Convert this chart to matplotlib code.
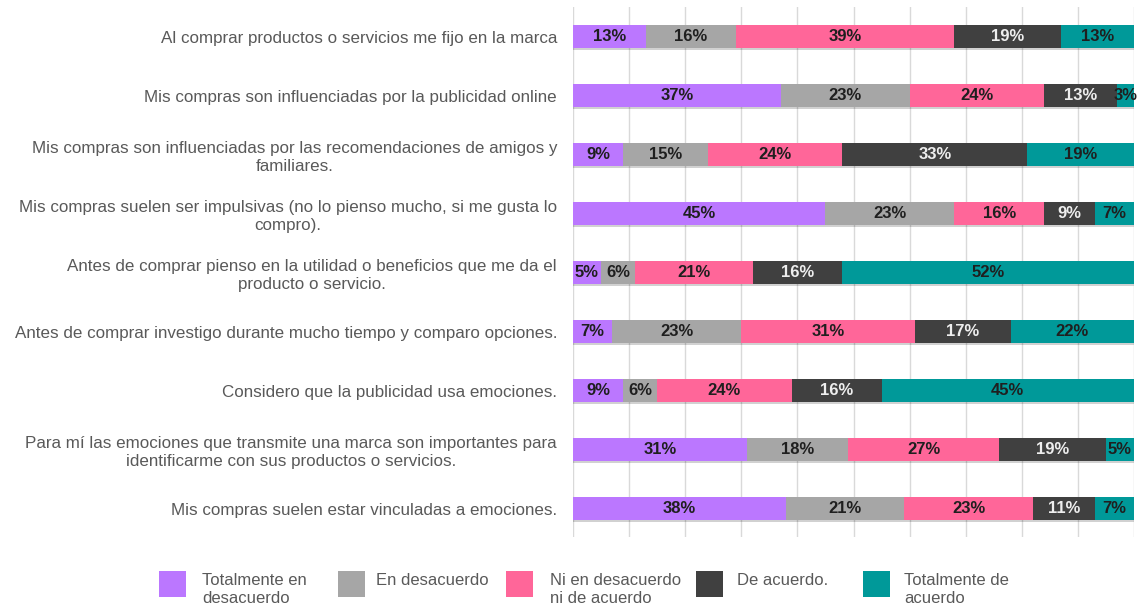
"""
plot.py

Stacked horizontal bar chart of agreement levels for purchase-behaviour statements.
"""

import matplotlib

matplotlib.use("Agg")
import matplotlib.pyplot as plt
import matplotlib.patheffects as pe
from matplotlib.patches import Rectangle

plt.rcParams["font.family"] = ["Liberation Sans", "DejaVu Sans"]

W, H = 1145, 613

statements = [
    "Al comprar productos o servicios me fijo en la marca",
    "Mis compras son influenciadas por la publicidad online",
    "Mis compras son influenciadas por las recomendaciones de amigos y\nfamiliares.",
    "Mis compras suelen ser impulsivas (no lo pienso mucho, si me gusta lo\ncompro).",
    "Antes de comprar pienso en la utilidad o beneficios que me da el\nproducto o servicio.",
    "Antes de comprar investigo durante mucho tiempo y comparo opciones.",
    "Considero que la publicidad usa emociones.",
    "Para mí las emociones que transmite una marca son importantes para\nidentificarme con sus productos o servicios.",
    "Mis compras suelen estar vinculadas a emociones.",
]

series_names = [
    "Totalmente en\ndesacuerdo",
    "En desacuerdo",
    "Ni en desacuerdo\nni de acuerdo",
    "De acuerdo.",
    "Totalmente de\nacuerdo",
]

totalmente_desacuerdo = [13, 37, 9, 45, 5, 7, 9, 31, 38]
en_desacuerdo = [16, 23, 15, 23, 6, 23, 6, 18, 21]
ni_ni = [39, 24, 24, 16, 21, 31, 24, 27, 23]
de_acuerdo = [19, 13, 33, 9, 16, 17, 16, 19, 11]
totalmente_acuerdo = [13, 3, 19, 7, 52, 22, 45, 5, 7]

series = [totalmente_desacuerdo, en_desacuerdo, ni_ni, de_acuerdo, totalmente_acuerdo]
colors = ["#bb77ff", "#a6a6a6", "#ff6699", "#404040", "#009999"]
label_colors = ["#1f1f1f", "#1f1f1f", "#1f1f1f", "#eeeeee", "#1f1f1f"]

fig = plt.figure(figsize=(W / 100, H / 100), dpi=100)
ax = fig.add_axes([573 / W, 1 - 537 / H, (1134 - 573) / W, (537 - 7) / H])

ypos = list(range(len(statements)))
left = [0] * len(statements)
shadow = [pe.SimplePatchShadow(offset=(0, -1.5), shadow_rgbFace="#000000", alpha=0.18), pe.Normal()]
for vals, color, tcolor in zip(series, colors, label_colors):
    bars = ax.barh(ypos, vals, left=left, height=0.39, color=color, zorder=3)
    for b in bars:
        b.set_path_effects(shadow)
    ax.bar_label(
        bars,
        labels=[f"{v}%" for v in vals],
        label_type="center",
        fontsize=12,
        fontweight="bold",
        color=tcolor,
        zorder=4,
    )
    left = [l + v for l, v in zip(left, vals)]

ax.set_xlim(0, 100)
ax.set_ylim(8.48, -0.5)
ax.set_xticks(range(0, 101, 10))
ax.xaxis.grid(True, color="#d9d9d9", linewidth=1, zorder=0)
ax.tick_params(axis="x", length=0, labelbottom=False)
ax.set_yticks(ypos)
ax.set_yticklabels(statements)
ax.tick_params(axis="y", length=0, pad=11.5, labelsize=12.25, labelcolor="#595959")
for lbl in ax.get_yticklabels():
    lbl.set_multialignment("center")
    lbl.set_linespacing(1.25)
for s in ax.spines.values():
    s.set_visible(False)

# legend drawn by hand so it matches the two-line layout
square_x = [159, 338, 506, 696, 863]
text_x = [202, 376, 550, 737, 904]
for name, color, sx, tx in zip(series_names, colors, square_x, text_x):
    fig.patches.append(
        Rectangle(
            (sx / W, 1 - 597 / H),
            27 / W,
            26 / H,
            transform=fig.transFigure,
            facecolor=color,
            edgecolor="none",
        )
    )
    fig.text(
        tx / W,
        1 - 573 / H,
        name,
        ha="left",
        va="top",
        fontsize=12,
        color="#595959",
        linespacing=1.25,
    )

fig.savefig("out.png", dpi=100)
